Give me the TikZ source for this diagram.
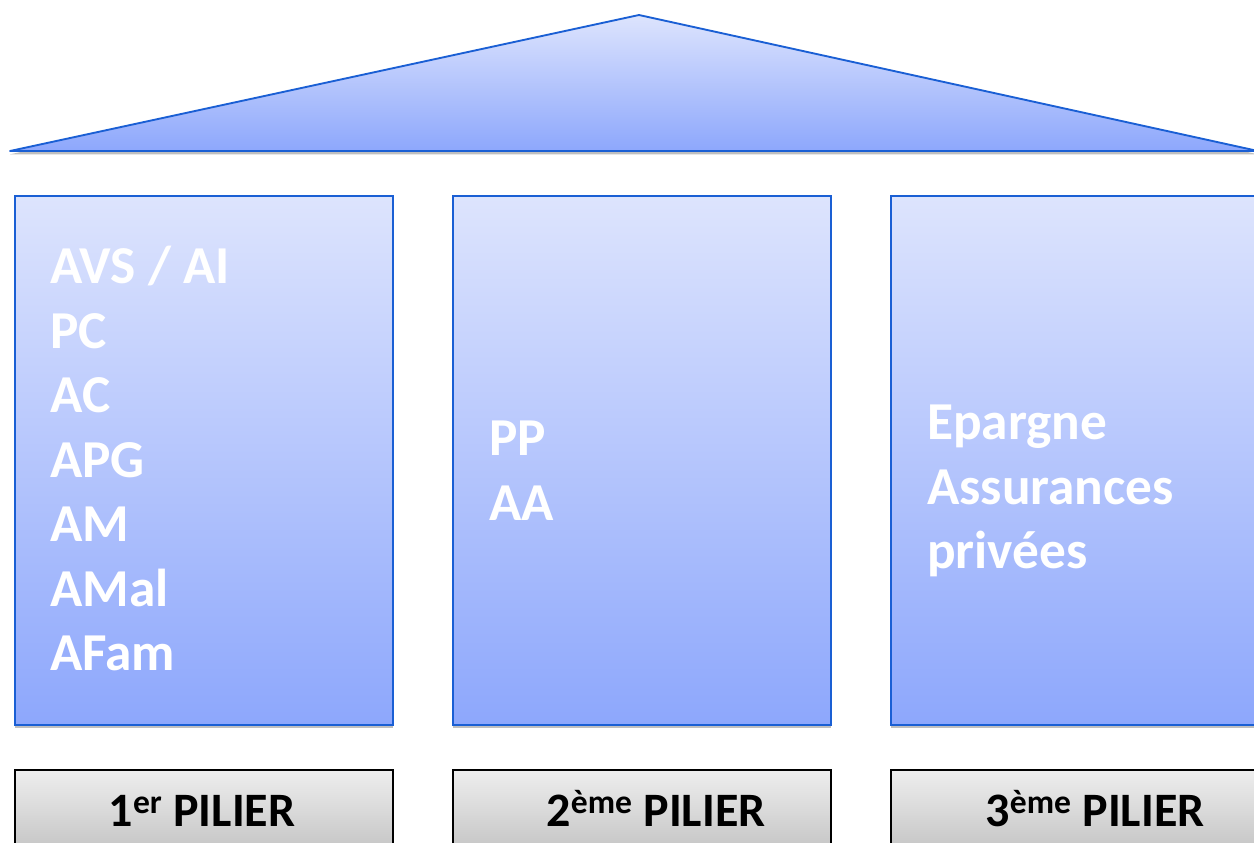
\documentclass[tikz,border=0pt]{standalone}
\usepackage{fontspec}
\setmainfont{Carlito}
\usetikzlibrary{shadows}
\definecolor{lightblue}{HTML}{DDE4FD}
\definecolor{deepblue}{HTML}{8DA7FC}
\definecolor{edgeblue}{HTML}{1A5FD4}
\definecolor{greytop}{HTML}{EEEEEE}
\definecolor{greybot}{HTML}{C0C0C0}
\begin{document}
\begin{tikzpicture}[x=0.75pt,y=-0.75pt,
  bluepanel/.style={draw=edgeblue, line width=1.4pt, top color=lightblue, bottom color=deepblue,
    drop shadow={shadow xshift=0pt, shadow yshift=-2.5pt, opacity=0.25, fill=black}},
  greypanel/.style={draw=black, line width=1.4pt, top color=greytop, bottom color=greybot},
  item/.style={anchor=base west, inner sep=0pt, text=white, font=\fontsize{40}{48}\selectfont\bfseries},
  pillarlabel/.style={anchor=base, inner sep=0pt, text=black, font=\fontsize{36}{44}\selectfont\bfseries}]
\useasboundingbox (0,0) rectangle (1254,843);
\clip (0,0) rectangle (1254,843);
% roof
\coordinate (apex) at (639,15);
\coordinate (eaveL) at (10,151);
\coordinate (eaveR) at (1258,151);
\path[bluepanel, line join=round] (eaveL) -- (apex) -- (eaveR) -- cycle;
% pillars
\path[bluepanel] (15,196) rectangle (393,725);
\path[bluepanel] (453,196) rectangle (831,725);
\path[bluepanel] (891,196) rectangle (1269,725);
% labels boxes
\path[greypanel] (15,770) rectangle (393,860);
\path[greypanel] (453,770) rectangle (831,860);
\path[greypanel] (891,770) rectangle (1269,860);
% pillar 1 text
\node[item] (p1a) at (50,283.5) {AVS / AI};
\node[item] (p1b) at (50,348) {PC};
\node[item] (p1c) at (50,412.5) {AC};
\node[item] (p1d) at (50,477) {APG};
\node[item] (p1e) at (50,541.5) {AM};
\node[item] (p1f) at (50,606) {AMal};
\node[item] (p1g) at (50,670.5) {AFam};
% pillar 2 text
\node[item] (p2a) at (489,455.5) {PP};
\node[item] (p2b) at (489,520.5) {AA};
% pillar 3 text
\node[item] (p3a) at (927,439.5) {Epargne};
\node[item] (p3b) at (927,504) {Assurances};
\node[item] (p3c) at (927,568) {privées};
% labels
\node[pillarlabel] (l1) at (202,826) {1\textsuperscript{er} PILIER};
\node[pillarlabel] (l2) at (656,826) {2\textsuperscript{ème} PILIER};
\node[pillarlabel] (l3) at (1095,826) {3\textsuperscript{ème} PILIER};
\end{tikzpicture}
\end{document}
